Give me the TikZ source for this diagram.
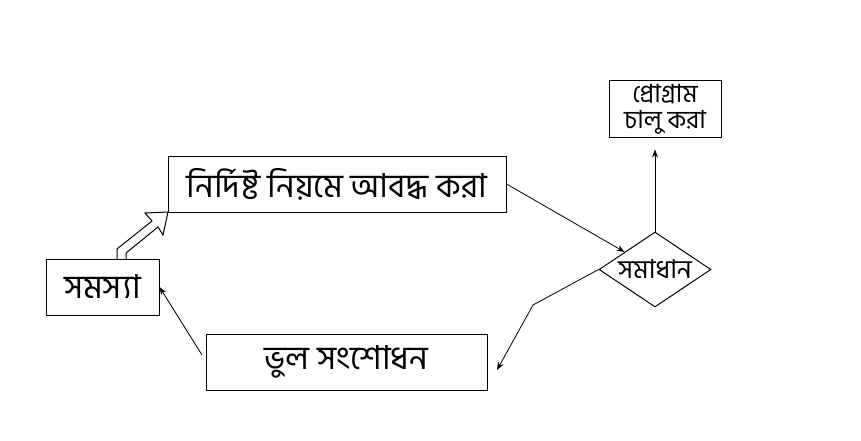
\documentclass[tikz,border=0pt]{standalone}
\usepackage{fontspec}
\newfontfamily\bnfont[Script=Bengali]{Hind Siliguri}
\usetikzlibrary{shapes.geometric,arrows.meta}

\begin{document}
\begin{tikzpicture}[x = 1pt, y = -1pt,
  box/.style = {draw, line width=1pt, inner sep=0pt, font=\bnfont\fontsize{33}{35}\selectfont},
  smallbox/.style = {box, align=center, font=\bnfont\fontsize{25}{26}\selectfont},
  decision/.style = {draw, diamond, line width=1pt, inner sep=0pt, minimum width=112pt, minimum height=75pt},
  link/.style = {line width=0.8pt, -{Stealth[length=8pt,width=6pt]}}]
  \useasboundingbox (0,0) rectangle (861,441);

  \node[box, minimum width=338pt, minimum height=56pt] (rule) at (337,184) {নির্দিষ্ট নিয়মে আবদ্ধ করা};
  \node[box, minimum width=113pt, minimum height=56pt] (prob) at (102.5,287) {সমস্যা};
  \node[box, minimum width=281pt, minimum height=56pt] (fix) at (346.5,362) {ভুল সংশোধন};
  \node[smallbox, minimum width=112pt, minimum height=56pt] (prog) at (665,109) {প্রোগ্রাম\\চালু করা};
  \node[decision, label={[font=\bnfont\fontsize{26}{28}\selectfont]center:সমাধান}] (sol) at (655,269.5) {};

  \coordinate (bend) at (533,305);
  \coordinate (fixin) at (497,370);
  \coordinate (fixout) at (202,355);

  \draw[line width=1pt, line join=miter] (117,260) -- (117,249) -- (152,221) -- (145,213) -- (168,212)
    -- (163,235) -- (158,227) -- (126,253) -- (126,260);

  \draw[link] (rule.east) -- (sol);
  \draw[link, shorten >=12pt] (sol.north) -- (sol.north |- prog.south);
  \draw[link] (sol.west) -- (bend) -- (fixin);
  \draw[link] (fixout) -- (prob.east);
\end{tikzpicture}
\end{document}
